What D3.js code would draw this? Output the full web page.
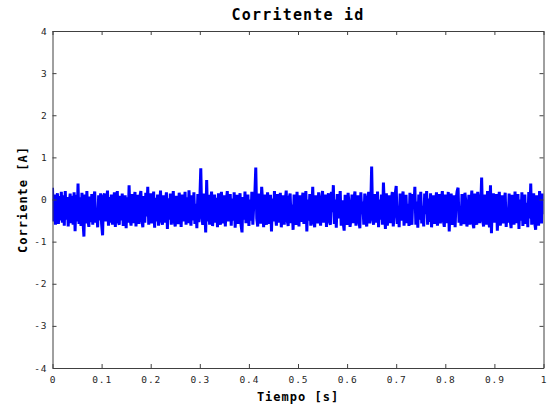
<!DOCTYPE html>
<html>
<head>
<meta charset="utf-8">
<script src="https://cdn.jsdelivr.net/npm/d3@7"></script>
<style>
  body { margin: 0; background: #fff; }
  svg { display: block; }
  .tick text { font-family: "DejaVu Sans Mono", monospace; font-size: 9.5px; fill: #262626; letter-spacing: 0.9px; }
  .lbl { font-family: "DejaVu Sans Mono", monospace; font-weight: bold; fill: #000; }
</style>
</head>
<body>
<svg id="chart" width="548" height="408"></svg>
<script>
// ── Data: sampled id current (A), one sample every DT seconds ────────────────
const TITLE  = "Corritente id";
const XLABEL = "Tiempo [s]";
const YLABEL = "Corriente [A]";
const X_TICKS = [0, 0.1, 0.2, 0.3, 0.4, 0.5, 0.6, 0.7, 0.8, 0.9, 1];
const Y_TICKS = [-4, -3, -2, -1, 0, 1, 2, 3, 4];
const DT = 0.002;
const ID_VALUES = [
  0.28, -0.52, 0.12, -0.6, -0.2, 0.15, -0.58, 0.08, -0.5, 0.18,
  -0.55, 0.1, -0.62, 0.2, -0.48, 0.06, -0.64, -0.1, 0.14, -0.56,
  0.09, -0.6, 0.17, -0.75, 0.11, -0.52, 0.38, -0.58, 0.05, -0.63,
  0.16, -0.5, -0.88, 0.12, -0.57, 0.2, -0.45, -0.65, 0.07, -0.54,
  0.13, -0.6, 0.04, 0.19, -0.55, -0.3, -0.66, 0.1, -0.5, 0.15,
  -0.58, -0.85, 0.08, 0.14, -0.52, -0.15, 0.21, -0.62, 0.06, -0.55,
  0.12, -0.6, -0.25, 0.17, -0.65, 0.02, 0.2, -0.53, -0.6, 0.09,
  -0.5, 0.14, -0.63, -0.12, 0.1, -0.68, 0.05, -0.55, 0.34, -0.45,
  -0.62, 0.13, -0.56, 0.0, 0.18, -0.64, -0.3, 0.11, -0.58, 0.07,
  0.2, -0.5, -0.66, 0.08, -0.55, 0.16, -0.4, 0.3, -0.6, -0.05,
  0.15, -0.57, -0.2, 0.19, -0.67, 0.04, -0.52, 0.12, -0.62, -0.25,
  0.21, -0.5, -0.6, 0.1, -0.55, -0.1, 0.17, -0.7, 0.03, -0.48,
  0.14, -0.6, -0.22, 0.2, -0.53, -0.64, 0.09, -0.45, -0.58, 0.16,
  -0.08, -0.65, 0.12, -0.52, -0.15, 0.18, -0.6, 0.05, -0.56, 0.22,
  -0.35, -0.62, 0.1, -0.5, 0.17, -0.58, -0.1, -0.68, 0.13, -0.54,
  -0.02, 0.74, -0.4, -0.6, 0.14, -0.2, -0.78, 0.46, -0.52, 0.11,
  -0.6, -0.1, 0.19, -0.63, -0.3, 0.12, -0.55, 0.04, -0.66, 0.15,
  -0.45, -0.6, 0.18, -0.15, -0.57, 0.1, -0.64, -0.05, 0.2, -0.52,
  -0.3, 0.13, -0.62, 0.02, -0.5, 0.17, -0.67, -0.12, 0.11, -0.58,
  -0.05, 0.15, -0.6, -0.78, 0.06, -0.48, 0.19, -0.56, -0.2, 0.12,
  -0.63, 0.0, -0.5, 0.18, -0.6, -0.1, 0.1, 0.76, -0.45, -0.64,
  0.14, -0.28, -0.57, 0.3, -0.05, -0.66, 0.12, -0.5, -0.6, 0.17,
  -0.15, -0.58, 0.11, -0.76, 0.02, -0.52, 0.2, -0.35, -0.62, 0.13,
  -0.1, -0.55, 0.16, -0.66, -0.2, 0.1, -0.6, -0.02, 0.21, -0.5,
  -0.63, 0.04, 0.14, -0.56, -0.12, -0.72, 0.12, -0.45, -0.6, 0.18,
  -0.3, -0.64, 0.1, -0.53, -0.05, 0.16, -0.58, -0.15, 0.2, -0.76,
  0.0, -0.5, 0.13, -0.62, -0.25, 0.3, -0.55, -0.66, 0.1, -0.12,
  -0.57, 0.17, -0.4, -0.62, 0.04, 0.2, -0.55, -0.2, 0.12, -0.65,
  -0.08, 0.15, -0.52, -0.6, 0.18, -0.3, 0.34, -0.58, 0.0, -0.67,
  0.13, -0.45, -0.15, 0.2, -0.62, -0.02, -0.55, -0.74, 0.11, -0.3,
  -0.6, 0.16, -0.1, -0.65, -0.45, 0.12, -0.56, 0.02, 0.19, -0.62,
  -0.2, 0.1, -0.53, -0.68, 0.17, -0.35, -0.05, -0.6, 0.14, -0.5,
  -0.64, 0.05, 0.18, -0.57, -0.25, 0.78, -0.45, -0.6, 0.13, -0.12,
  -0.55, 0.19, -0.66, 0.0, -0.48, 0.12, -0.6, 0.4, -0.2, -0.7,
  0.15, -0.62, -0.3, 0.1, -0.56, -0.05, 0.18, -0.64, -0.35, 0.13,
  0.32, -0.58, -0.15, -0.66, 0.14, -0.5, 0.0, 0.19, -0.62, -0.25,
  0.11, -0.56, -0.1, -0.63, 0.16, -0.45, -0.6, 0.13, -0.2, 0.3,
  -0.6, -0.05, -0.67, 0.12, -0.48, 0.18, -0.57, -0.15, -0.64, 0.14,
  -0.35, 0.2, -0.6, 0.02, -0.53, 0.15, -0.66, -0.22, 0.1, -0.58,
  -0.1, 0.17, -0.62, -0.4, 0.13, -0.57, 0.0, 0.2, -0.5, -0.65,
  0.12, -0.3, -0.56, 0.18, -0.76, -0.1, 0.14, -0.6, -0.42, 0.1,
  -0.66, 0.0, 0.19, 0.28, -0.55, -0.2, -0.62, 0.13, -0.4, -0.58,
  0.16, -0.08, -0.64, -0.45, 0.11, -0.6, -0.15, 0.21, -0.55, -0.68,
  0.14, -0.3, -0.6, 0.18, 0.0, -0.56, -0.25, 0.52, -0.48, -0.64,
  0.12, -0.15, -0.6, 0.2, -0.45, -0.66, 0.34, -0.8, 0.0, 0.15,
  -0.55, -0.28, 0.13, -0.74, -0.1, 0.18, -0.62, -0.4, 0.1, -0.57,
  -0.05, 0.16, -0.65, -0.2, -0.55, 0.14, -0.47, -0.68, 0.11, -0.15,
  -0.6, 0.19, -0.35, -0.56, 0.13, -0.7, 0.0, -0.5, 0.17, -0.63,
  -0.2, 0.12, -0.58, -0.08, -0.66, 0.18, -0.45, 0.38, -0.6, -0.25,
  0.15, -0.55, -0.72, 0.1, -0.4, -0.62, 0.2, -0.12, -0.57, 0.14,
  -0.35
];

// ── Layout ───────────────────────────────────────────────────────────────────
const VW = 548, VH = 408;
const M  = { top: 31, right: 4.5, bottom: 40, left: 52.5 };
const W  = VW - M.left - M.right;
const H  = VH - M.top  - M.bottom;
const AXIS_COLOR = "#404040";

const svg = d3.select("#chart");
const g   = svg.append("g").attr("transform", `translate(${M.left},${M.top})`);

const x = d3.scaleLinear().domain([0, 1]).range([0, W]);
const y = d3.scaleLinear().domain([-4, 4]).range([H, 0]);

const fmt = d => String(+d.toFixed(1));

// signal, clipped to the box
g.append("clipPath").attr("id", "clip")
  .append("rect").attr("width", W).attr("height", H);

const line = d3.line()
  .x((d, i) => x(i * DT))
  .y(d => y(d));

g.append("path")
  .datum(ID_VALUES)
  .attr("clip-path", "url(#clip)")
  .attr("fill", "none")
  .attr("stroke", "#0000ff")
  .attr("stroke-width", 3)
  .attr("stroke-linejoin", "bevel")
  .attr("d", line);

// ── Axes: ticks point inward on all four sides (boxed plot) ───────────────────
function styleAxis(ax) {
  ax.select(".domain").attr("stroke", AXIS_COLOR);
  ax.selectAll(".tick line").attr("stroke", AXIS_COLOR);
}

g.append("g").attr("transform", `translate(0,${H})`)
  .call(d3.axisBottom(x).tickValues(X_TICKS).tickFormat(fmt).tickSize(-4).tickSizeOuter(0).tickPadding(8))
  .call(styleAxis);

g.append("g")
  .call(d3.axisTop(x).tickValues(X_TICKS).tickFormat("").tickSize(-4).tickSizeOuter(0))
  .call(styleAxis);

g.append("g")
  .call(d3.axisLeft(y).tickValues(Y_TICKS).tickFormat(fmt).tickSize(-4).tickSizeOuter(0).tickPadding(5))
  .call(styleAxis);

g.append("g").attr("transform", `translate(${W},0)`)
  .call(d3.axisRight(y).tickValues(Y_TICKS).tickFormat("").tickSize(-4).tickSizeOuter(0))
  .call(styleAxis);

// ── Labels ───────────────────────────────────────────────────────────────────
svg.append("text").attr("class", "lbl")
  .attr("x", M.left + W / 2).attr("y", 19.5)
  .attr("text-anchor", "middle")
  .attr("font-size", 15).attr("letter-spacing", 1.2)
  .text(TITLE);

svg.append("text").attr("class", "lbl")
  .attr("x", M.left + W / 2).attr("y", 401)
  .attr("text-anchor", "middle")
  .attr("font-size", 12).attr("letter-spacing", 1)
  .text(XLABEL);

svg.append("text").attr("class", "lbl")
  .attr("transform", `translate(27,${M.top + H / 2}) rotate(-90)`)
  .attr("text-anchor", "middle")
  .attr("font-size", 12).attr("letter-spacing", 1)
  .text(YLABEL);
</script>
</body>
</html>
